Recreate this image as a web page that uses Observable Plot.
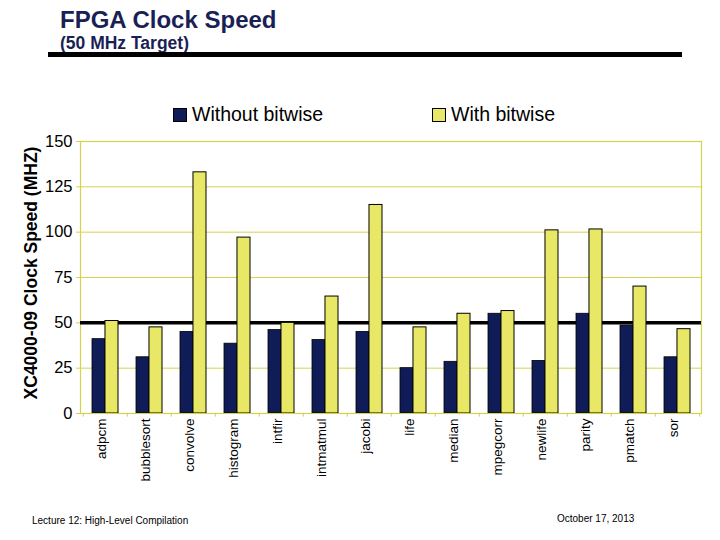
<!DOCTYPE html>
<html>
<head>
<meta charset="utf-8">
<script src="https://cdn.jsdelivr.net/npm/d3@7"></script>
<script src="https://cdn.jsdelivr.net/npm/@observablehq/plot@0.6"></script>
<style>
  html, body { margin: 0; padding: 0; background: #fff; }
  #page { position: relative; width: 720px; height: 540px; overflow: hidden; font-family: "Liberation Sans", Arial, sans-serif; }
  #chart { position: absolute; left: 0; top: 0; }
  .abs { position: absolute; white-space: nowrap; line-height: 1; }
  #title { left: 60px; top: 8px; font-size: 24px; font-weight: bold; color: #1a1f55; }
  #subtitle { left: 60px; top: 35px; font-size: 17.5px; font-weight: bold; color: #1a1f55; }
  #rule { position: absolute; left: 48px; top: 52px; width: 634px; height: 5px; background: #000; }
  .legend { position: absolute; top: 103px; font-size: 19.5px; color: #000; display: flex; align-items: center; }
  .swatch { display: inline-block; width: 12px; height: 12px; border: 1px solid #000; margin-right: 5px; }
  #ylabel { left: 32px; top: 273px; transform: translate(-50%, -50%) rotate(-90deg); font-size: 17.5px; font-weight: bold; color: #000; }
  .foot { font-size: 10px; color: #000; }
</style>
</head>
<body>
<div id="page">
  <div id="chart"></div>
  <div class="abs" id="title">FPGA Clock Speed</div>
  <div class="abs" id="subtitle">(50 MHz Target)</div>
  <div id="rule"></div>
  <div class="legend" id="leg1" style="left:173px"><span class="swatch" style="background:#0f1c57"></span><span>Without bitwise</span></div>
  <div class="legend" id="leg2" style="left:432px"><span class="swatch" style="background:#e8e866"></span><span>With bitwise</span></div>
  <div class="abs" id="ylabel">XC4000-09 Clock Speed (MHZ)</div>
  <div class="abs foot" style="left:32px; top:516px;">Lecture 12: High-Level Compilation</div>
  <div class="abs foot" style="left:557px; top:514px;">October 17, 2013</div>
</div>
<script>
const categories = ["adpcm","bubblesort","convolve","histogram","intfir","intmatmul","jacobi","life","median","mpegcorr","newlife","parity","pmatch","sor"];
const withoutBitwise = [41, 31, 45, 38.5, 46, 40.5, 45, 25, 28.5, 55, 29, 55, 48.5, 31];
const withBitwise = [51, 47.5, 133, 97, 50, 64.5, 115, 47.5, 55, 56.5, 101, 101.5, 70, 46.5];
const yTicks = [0, 25, 50, 75, 100, 125, 150];
const target = [50];

const navy = "#0f1c57";
const yellow = "#e8e866";
const grid = "#d3d34e";

const width = 720, height = 540;
const margin = {left: 80, right: 19, top: 141, bottom: 127};
const padInner = 0.415, padOuter = 0.2075;

const data = categories.map((c, i) => ({cat: c, without: withoutBitwise[i], with: withBitwise[i]}));

// band geometry (same config as Plot's x scale) to split each band in two
const band = d3.scaleBand(categories, [margin.left, width - margin.right]).paddingInner(padInner).paddingOuter(padOuter);
const bw = band.bandwidth();
const step = band.step();

const plot = Plot.plot({
  width, height,
  marginLeft: margin.left, marginRight: margin.right, marginTop: margin.top, marginBottom: margin.bottom,
  style: {fontFamily: "Liberation Sans, Arial, sans-serif", background: "transparent", color: "#000"},
  x: {domain: categories, paddingInner: padInner, paddingOuter: padOuter, label: null},
  y: {domain: [0, 150], ticks: yTicks, label: null},
  marks: [
    Plot.ruleY(yTicks.filter(d => d > 0), {stroke: grid, strokeWidth: 1}),
    Plot.frame({stroke: grid, strokeWidth: 1.2}),
    Plot.ruleX(categories, {x: d => d, dx: -step / 2, y1: 0, y2: -2, stroke: grid}),
    Plot.ruleX(categories.slice(-1), {x: d => d, dx: step / 2, y1: 0, y2: -2, stroke: grid}),
    Plot.ruleY(target, {stroke: "#000", strokeWidth: 3.5}),
    Plot.barY(data, {x: "cat", y: "without", fill: navy, stroke: "#000", strokeWidth: 0.8, insetRight: bw / 2}),
    Plot.barY(data, {x: "cat", y: "with", fill: yellow, stroke: "#000", strokeWidth: 1, insetLeft: bw / 2}),
    Plot.ruleY([0], {stroke: grid, strokeWidth: 1.2}),
    Plot.axisY({ticks: yTicks, tickSize: 4, tickPadding: 4, fontSize: 16.5, stroke: grid, label: null, tickFormat: d => String(d)}),
    Plot.axisX({tickSize: 0, tickPadding: 5, tickRotate: -90, fontSize: 13.5, dx: -4, label: null})
  ]
});
document.getElementById("chart").appendChild(plot);
</script>
</body>
</html>
